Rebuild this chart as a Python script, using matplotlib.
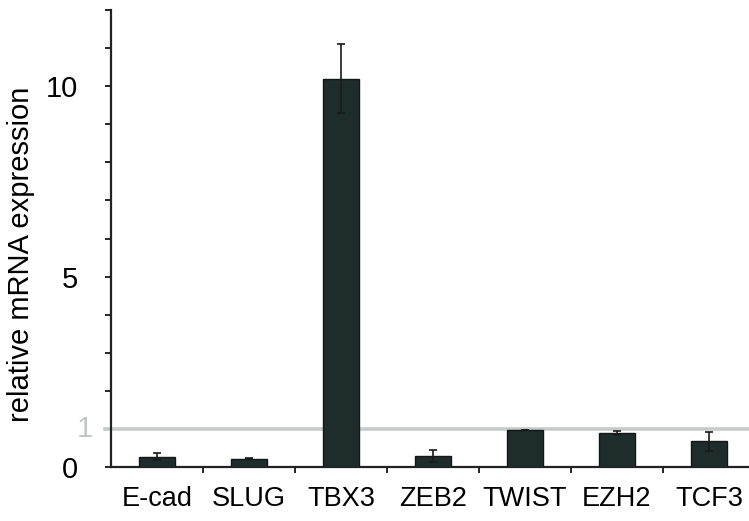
import matplotlib.pyplot as plt
import numpy as np

plt.rcParams['font.family'] = ['Liberation Sans', 'DejaVu Sans']

# data
genes = ["E-cad", "SLUG", "TBX3", "ZEB2", "TWIST", "EZH2", "TCF3"]
expression = [0.27, 0.22, 10.2, 0.29, 0.96, 0.90, 0.68]
errors = [0.09, 0.02, 0.9, 0.16, 0.0, 0.05, 0.25]

fig = plt.figure(figsize=(7.49, 5.21), dpi=100)
ax = fig.add_axes([111 / 749, 1 - 467 / 521, 644 / 749, 457 / 521])

x = np.arange(len(genes))
ax.bar(x, expression, width=0.4, color="#1f2c2c", edgecolor="#111818", linewidth=1,
       yerr=errors, error_kw=dict(ecolor="#1a1a1a", elinewidth=1.2, capsize=3, capthick=1.2),
       zorder=3)

# reference line at 1
ax.plot([-0.56, 6.6], [1, 1], color="#c4ccc9", linewidth=2.6, clip_on=False, zorder=2)

ax.set_xlim(-0.5, 6.5)
ax.set_ylim(0, 12)

ax.set_yticks(range(0, 13))
ax.set_yticklabels(["0", "", "", "", "", "5", "", "", "", "", "10", "", ""])
ax.tick_params(axis="y", direction="out", length=4, width=1.2, labelsize=21, pad=20)
ax.text(-0.7, 1, "1", color="#bfc7c4", fontsize=21, ha="right", va="center")

ax.set_xticks(x)
ax.set_xticklabels(genes, fontsize=19.5)
ax.set_xticks(np.arange(0.5, 6.5, 1), minor=True)
ax.tick_params(axis="x", which="major", length=0, pad=14)
ax.tick_params(axis="x", which="minor", direction="out", length=4, width=1.2)

for side in ["top", "right"]:
    ax.spines[side].set_visible(False)
ax.spines["left"].set_linewidth(1.6)
ax.spines["bottom"].set_linewidth(1.6)
ax.spines["left"].set_color("#222222")
ax.spines["bottom"].set_color("#222222")

ax.set_ylabel("relative mRNA expression", fontsize=21)
ax.yaxis.set_label_coords(-0.118, 0.465)

plt.savefig("out.png", dpi=100)
